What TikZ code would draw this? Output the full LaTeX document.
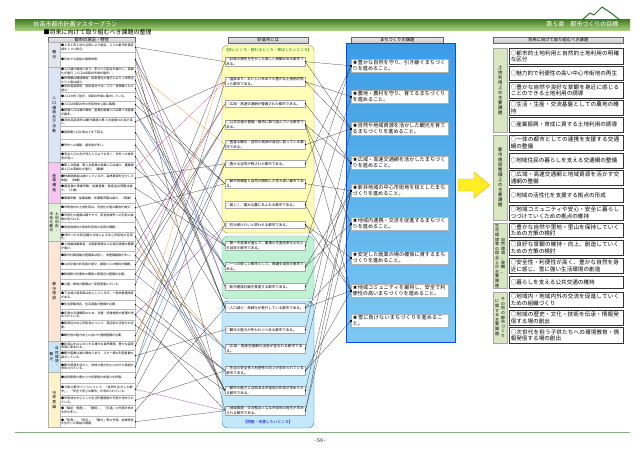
\documentclass[tikz,border=0pt]{standalone}
\usepackage{fontspec}
\setmainfont{Noto Sans CJK JP}
\XeTeXlinebreaklocale "ja"
\XeTeXlinebreakskip=0pt plus 0.5pt
\usetikzlibrary{shadows}
\definecolor{bandtop}{HTML}{3E7A22}
\definecolor{bandbot}{HTML}{A8CF7A}
\definecolor{catgray}{HTML}{E4E4EC}
\definecolor{catpop}{HTML}{DCE4F6}
\definecolor{catind}{HTML}{F5C6F0}
\definecolor{catland}{HTML}{E2F0D8}
\definecolor{catfac}{HTML}{FDE6D6}
\definecolor{catnat}{HTML}{C9E6F8}
\definecolor{catcit}{HTML}{FEF2CC}
\definecolor{goodfill}{HTML}{FFFFB8}
\definecolor{midfill}{HTML}{BFF2D4}
\definecolor{badfill}{HTML}{C2E8FA}
\definecolor{taskdark}{HTML}{3C9CE4}
\definecolor{tasklight}{HTML}{DDF0FC}
\definecolor{taskmid}{HTML}{7CC8F2}
\definecolor{rcatfill}{HTML}{D8E6C2}
\definecolor{arrowfill}{HTML}{FFEE22}
\definecolor{linkorange}{HTML}{E89020}
\definecolor{linkpurple}{HTML}{9040C0}
\definecolor{linkblue}{HTML}{2060D0}
\definecolor{linkpink}{HTML}{E040A0}
\tikzset{
  head/.style={
    draw=gray!80!black,
    top color=gray!15,
    bottom color=gray!45,
    anchor=north west,
    inner sep=0pt,
    minimum height=6pt,
    font=\fontsize{4.3}{5}\selectfont
  },
  lcat/.style={
    draw=gray!60,
    anchor=north west,
    inner sep=0pt,
    minimum width=12pt,
    align=center,
    font=\fontsize{3.8}{4.6}\selectfont
  },
  litem/.style={
    draw=gray!55,
    fill=white,
    anchor=north west,
    inner xsep=1pt,
    inner ysep=0pt,
    text width=73pt,
    align=left,
    font=\fontsize{3}{3.7}\selectfont
  },
  mitem/.style={
    draw=gray!70,
    fill=white,
    anchor=north west,
    inner xsep=1.2pt,
    inner ysep=0pt,
    text width=77.6pt,
    align=left,
    font=\fontsize{3.5}{4.2}\selectfont
  },
  bitem/.style={
    draw=gray!60,
    fill=white,
    drop shadow={shadow xshift=0.8pt,shadow yshift=-0.8pt,fill=gray!70},
    anchor=north west,
    inner xsep=1.5pt,
    inner ysep=0pt,
    text width=94pt,
    align=left,
    font=\fontsize{5.1}{5.8}\selectfont
  },
  rcat/.style={
    draw=gray!70,
    fill=rcatfill,
    anchor=north west,
    inner sep=0pt,
    minimum width=14pt,
    align=center,
    font=\fontsize{4.4}{5}\selectfont
  },
  ritem/.style={
    draw=gray!40!black,
    line width=0.5pt,
    fill=white,
    drop shadow={shadow xshift=0.8pt,shadow yshift=-0.8pt,fill=gray!60},
    anchor=north west,
    inner xsep=1.5pt,
    inner ysep=0pt,
    text width=111pt,
    align=left,
    font=\fontsize{5.6}{6.4}\selectfont
  },
  zone/.style={rounded corners=6pt, line width=0.4pt},
  link/.style={line width=0.25pt, draw=black!80},
  pin/.style={circle, fill=black, inner sep=0pt, minimum size=1.3pt}
}
\begin{document}
\begin{tikzpicture}[x=1pt,y=-1pt]
  \useasboundingbox (0,0) rectangle (640,453);

  % title band
  \shade[top color=bandtop, bottom color=bandbot] (15,19) rectangle (630,30);
  \draw[line width=1pt, draw=gray!50!green!60!black, line cap=round, line join=round]
    (582,20) -- (590,13) -- (594,15) -- (602,7) -- (611,13) -- (620,20);
  \node[anchor=west, text=white, font=\fontsize{6}{7}\selectfont] (plan) at (30,24.5) {妙高市都市計画マスタープラン};
  \node[anchor=east, text=white, font=\fontsize{6}{7}\selectfont] (chapter) at (622,24.5) {第５章　都市づくりの目標};
  \node[anchor=west, font=\fontsize{6}{7}\selectfont] (title) at (40,32.5) {■将来に向けて取り組むべき課題の整理};

  % column heads
  \node[head, minimum width=87pt] (hcur) at (48,37) {都市の現況・特性};
  \node[head, minimum width=80pt] (hcity) at (228,37) {妙高市とは};
  \node[head, minimum width=92pt] (htask) at (351,37) {まちづくりの課題};
  \node[head, minimum width=130pt] (hfut) at (493,37) {将来に向けて取り組むべき課題};

  % current state categories
  \node[lcat, fill=catgray, minimum height=25pt] (cgen) at (48,42) {概\\況};
  \node[lcat, fill=catpop, minimum height=95pt] (cpop) at (48,67) {人\\口\\構\\造\\及\\び\\活\\動};
  \node[lcat, fill=catind, minimum height=41pt] (cind) at (48,162) {産\\業\\構\\造};
  \node[lcat, fill=catland, minimum height=38pt] (cland) at (48,203) {};
  \node[font=\fontsize{3.6}{4.2}\selectfont, align=center] (clanda) at ([xshift=2.7pt]cland.center) {土\\地\\利\\用\\・};
  \node[font=\fontsize{3.6}{4.2}\selectfont, align=center] (clandb) at ([xshift=-2.7pt]cland.center) {市\\街\\化\\動\\向};
  \node[lcat, fill=catfac, minimum height=100pt] (cfac) at (48,241) {都\\市\\施\\設};
  \node[lcat, fill=catnat, minimum height=31pt] (cnat) at (48,341) {};
  \node[font=\fontsize{3.6}{4.2}\selectfont, align=center] (cnata) at ([xshift=2.7pt]cnat.center) {自\\然\\環\\境\\・};
  \node[font=\fontsize{3.6}{4.2}\selectfont, align=center] (cnatb) at ([xshift=-2.7pt]cnat.center) {観\\光};
  \node[lcat, fill=catcit, minimum height=55pt] (ccit) at (48,372) {市\\民\\意\\識};

  % current state items
  \foreach \n/\t/\b/\txt in {
    1/42/52/{●１市１町１村の合併により誕生。２つの都市計画区域を１つに統合。},
    2/52/67/{●日本でも屈指の豪雪地帯。},
    3/67/76/{●人口減少傾向にあり、年少人口割合が減少し、高齢化が進行（人口は旧新井市域が最多）。},
    4/76/84/{●世帯数は増加傾向、核家族化の進行により１世帯当たり人員は減少。},
    5/84/92/{●旧妙高高原町、旧妙高村では、人口・世帯数ともに減少。},
    6/92/101/{●人口の約７割が、旧新井市域に集中している。},
    7/101/108/{●人口は旧新井市の市街地中心部に集積。},
    8/108/117/{●就業人口は減少傾向、産業別就業人口は第３次産業が最多。},
    9/117/126/{●旧妙高高原町は観光関連の第３次産業の比率が高い。},
    10/126/139/{●昼夜間人口比率は１を下回る。},
    11/139/151/{●市外への通勤・通学者が多い。},
    12/151/162/{●流出人口の方が流入人口よりも多く、市外への依存度が高い。},
    13/162/173/{●第１次産業、第２次産業の就業人口は減少。農業就業人口の高齢化が進行。（農業）},
    14/173/183/{●林業就業者は減少しているが、森林資源を生かした取組。（林業）},
    15/183/193/{●製造業の事業所数・従業者数・製造品出荷額は減少。（工業）},
    16/193/203/{●事業所数・従業者数・年間販売額は減少。（商業）},
    17/203/212/{●市街地内の土地利用は、宅地化が進み農地が減少。},
    18/212/222/{●市街化の進展は緩やかで、用途地域外への宅地の拡散が見られる。},
    19/222/232/{●用途地域内の低未利用地の活用が課題。},
    20/232/241/{●郊外への大型店舗の立地による中心市街地の空洞化。},
    21/241/251/{●上信越自動車道・北陸新幹線など広域交通網の整備が進む。},
    22/251/260/{●都市計画道路の整備率は低く、未整備路線が多い。},
    23/260/269/{●公共交通の利用者が減少、路線バスの維持が課題。},
    24/269/279/{●鉄道駅の利便性の確保と駅周辺の整備が必要。},
    25/279/290/{●公園・緑地の整備は一定程度進んでいる。},
    26/290/300/{●下水道の普及率は向上しているが、一部未整備地区がある。},
    27/300/309/{●住宅密集地区、生活道路の整備が必要。},
    28/309/320/{●冬期の交通確保のため、消雪・除雪施設の整備が求められている。},
    29/320/330/{●駅周辺の中心市街地について、商店街の活性化が必要。},
    30/330/341/{●観光地の魅力向上に向けた施設整備が必要。},
    31/341/350/{●妙高山をはじめとする雄大な自然環境、豊かな温泉資源に恵まれる。},
    32/350/361/{●観光客数は減少傾向にあり、スキー場の利用者数も減少している。},
    33/361/372/{●観光資源を活かし、地域の魅力向上に向けた取組が求められている。},
    34/372/383/{●自然環境の豊かさや住環境の快適さを評価。},
    35/383/395/{●今後の都市づくりについて、「自然を生かした都市」、「安全で安心な都市」が求められている。},
    36/395/405/{●市街地を中心とした生活利便施設の充実が求められている。},
    37/405/416/{●「福祉・医療」、「雇用」、「交通」の充実を求める声が多い。},
    38/416/427/{●「除雪」、「防災」、「観光」等の充実、地域特性を生かした取組の推進。}}
  {
    \pgfmathsetmacro\hh{\b-\t}
    \node[litem, minimum height=\hh pt] (L\n) at (60,\t) {\txt};
  }

  % city zones
  \draw[zone, fill=goodfill, draw=gray!60!olive] (222,45) rectangle (314,233);
  \draw[zone, fill=midfill, draw=teal!60] (222,236) rectangle (314,299);
  \draw[zone, fill=badfill, draw=cyan!60!blue] (222,301) rectangle (314,428);
  \node[text=green!45!black, font=\fontsize{3.8}{4.4}\selectfont] (goodlbl) at (268,50.5) {【良いところ・誇れるところ・伸ばしたいところ】};
  \node[text=blue!80!black, font=\fontsize{3.8}{4.4}\selectfont] (badlbl) at (268,422) {【問題・改善したいところ】};

  % city items
  \foreach \n/\t/\b/\txt in {
    1/57/66/{□妙高の個性を生かした美しい景観がある都市である。},
    2/77/86/{□温泉あり、おいしい米ありの豊かな土地柄が揃った都市である。},
    3/100/107/{□広域・高速交通網が整備された都市である。},
    4/120/129/{□公共交通の整備・維持に取り組んでいる都市である。},
    5/140/149/{□豊富な観光・自然の資源が身近に揃っている都市である。},
    6/160/167/{□豊かな自然が残された都市である。},
    7/179/188/{□都市的機能と自然が調和した住み良い都市である。},
    8/201/208/{□美しく、雄大な麓にあふれる都市である。},
    9/221/228/{□住み続けたいと思われる都市である。},
    10/241/250/{□第一次産業が盛んで、農業の生産効率化の向上を目指す都市である。},
    11/262/271/{□一つの新しい都市として、再編を目指す都市である。},
    12/283/290/{□新市建設計画を推進する都市である。},
    13/303/312/{□人口減少・高齢化が進行している都市である。},
    14/326/333/{□観光の魅力が失われつつある都市である。},
    15/344/353/{□広域・高速交通網の活用が望まれる都市である。},
    16/366/375/{□生活の安全性と利便性の向上が求められている都市である。},
    17/386/395/{□都市の魅力と活気ある市街地の形成が求められる都市である。},
    18/406/415/{□地域振興・交流拠点となる市街地の再生が求められる都市である。}}
  {
    \pgfmathsetmacro\hh{\b-\t}
    \node[mitem, minimum height=\hh pt] (M\n) at (225,\t) {\txt};
  }

  % task zone and items
  \shade[top color=taskdark, middle color=tasklight, bottom color=taskmid] (346,43) rectangle (455,342);
  \draw[draw=blue!70!cyan, line width=0.5pt] (346,43) rectangle (455,342);
  \foreach \n/\t/\b/\txt in {
    1/59/72/{★豊かな自然を守り、引き継ぐまちづくりを進めること。},
    2/90/103/{★農地・農村を守り、育てるまちづくりを進めること。},
    3/122/135/{★自然や地域資源を活かした観光を育てるまちづくりを進めること。},
    4/156/169/{★広域・高速交通網を活かしたまちづくりを進めること。},
    5/184/197/{★新井地域の中心市街地を核としたまちづくりを進めること。},
    6/217/230/{★地域内連携・交流を促進するまちづくりを進めること。},
    7/251/264/{★安定した就業の場の確保に資するまちづくりを進めること。},
    8/284/297/{★地域コミュニティを維持し、安全で利便性の高いまちづくりを進めること。},
    9/314/327/{★雪に負けないまちづくりを進めること。}}
  {
    \pgfmathsetmacro\hh{\b-\t}
    \node[bitem, minimum height=\hh pt] (B\n) at (351,\t) {\txt};
  }

  % big arrow
  \draw[fill=arrowfill, draw=orange!70!yellow, line width=0.4pt, line join=round]
    (458,179) -- (474,179) -- (474,172) -- (490,185) -- (474,198) -- (474,191) -- (458,191) -- cycle;

  % future categories
  \node[rcat, minimum height=84pt] (fland) at (493,48) {土\\地\\利\\用\\上\\の\\主\\要\\課\\題};
  \node[rcat, minimum height=85pt] (ffac) at (493,135) {都\\市\\施\\設\\整\\備\\上\\の\\主\\要\\課\\題};
  \node[rcat, minimum height=65pt] (fenv) at (493,223) {};
  \node[font=\fontsize{4}{4.6}\selectfont, align=center] (fenva) at ([xshift=3pt]fenv.center) {自\\然\\環\\境\\、\\景\\観\\、};
  \node[font=\fontsize{4}{4.6}\selectfont, align=center] (fenvb) at ([xshift=-3pt]fenv.center) {生\\活\\環\\境\\等\\の\\保\\全\\上\\の\\主\\要\\課\\題};
  \node[rcat, minimum height=51pt] (foth) at (493,292) {};
  \node[font=\fontsize{4}{4.6}\selectfont, align=center] (fotha) at ([xshift=3pt]foth.center) {そ\\の\\他\\の\\都\\市\\づ\\く\\り};
  \node[font=\fontsize{4}{4.6}\selectfont, align=center] (fothb) at ([xshift=-3pt]foth.center) {に\\関\\す\\る\\主\\要\\課\\題};

  % future items
  \foreach \n/\t/\b/\txt in {
    1/48/64/{○都市的土地利用と自然的土地利用の明確な区分},
    2/66/80/{○魅力的で利便性の高い中心市街地の再生},
    3/82/98/{○豊かな自然や良好な景観を身近に感じることのできる土地利用の誘導},
    4/100/115/{○生活・生産・交流基盤としての農地の維持},
    5/117/132/{○産業振興・育成に資する土地利用の誘導},
    6/135/150/{○一体の都市としての連携を支援する交通網の整備},
    7/153/168/{○地域住民の暮らしを支える交通網の整備},
    8/170/185/{○広域・高速交通網と地域資源を活かす交通網の整備},
    9/188/202/{○地域の活性化を支援する拠点の形成},
    10/205/220/{○地域コミュニティや安心・安全に暮らしつづけていくための拠点の維持},
    11/223/237/{○豊かな自然や里地・里山を保持していくための方策の検討},
    12/240/255/{○良好な景観の維持・向上、創造していくための方策の検討},
    13/258/273/{○安全性・利便性が高く、豊かな自然を身近に感じ、雪に強い生活環境の創造},
    14/276/288/{○暮らしを支える公共交通の維持},
    15/292/307/{○地域内・地域内外の交流を促進していくための組織づくり},
    16/310/325/{○地域の歴史・文化・技術を伝承・情報発信する場の創出},
    17/327/343/{○次世代を担う子供たちへの環境教育・情報発信する場の創出}}
  {
    \pgfmathsetmacro\hh{\b-\t}
    \node[ritem, minimum height=\hh pt] (R\n) at (509,\t) {\txt};
  }

  % links: current state -> city
  \foreach \a/\b in {1/1,1/12,2/9,2/18,3/13,4/13,5/13,6/7,7/7,8/10,9/2,10/11,11/11,12/13,
    13/10,14/6,15/10,16/17,17/7,18/17,19/17,20/17,21/3,22/15,23/4,24/4,25/1,26/16,27/16,
    28/18,29/17,30/5,31/6,32/14,33/2,34/6,35/9,36/16,37/13,38/18}
    \draw[link] (L\a.east) -- (M\b.west);
  \foreach \a/\b in {3/5,21/15,31/1}
    \draw[link, draw=linkorange] (L\a.east) -- (M\b.west);
  \foreach \a/\b in {2/12,28/9,35/18}
    \draw[link, draw=linkpurple] (L\a.east) -- (M\b.west);
  \foreach \a/\b in {8/11,24/15,33/5}
    \draw[link, draw=linkblue] (L\a.east) -- (M\b.west);
  \foreach \a/\b in {13/2,22/3}
    \draw[link, draw=linkpink] (L\a.east) -- (M\b.west);

  % links: city -> tasks
  \foreach \a/\b in {1/1,1/3,2/2,2/3,3/4,4/4,4/6,4/8,5/3,6/1,7/5,8/1,8/8,9/8,9/7,10/2,
    11/5,11/6,12/5,13/8,13/7,14/3,15/4,16/8,16/9,17/5,18/6,18/5}
    \draw[link] (M\a.east) -- (B\b.west);

  % connector pins
  \foreach \n in {1,...,38}
    \node[pin] (pl\n) at (L\n.east) {};
  \foreach \n in {1,...,18}
    \node[pin] (pm\n) at (M\n.east) {};
  \foreach \n in {1,...,9}
    \node[pin, rectangle, minimum size=1.6pt] (pb\n) at (B\n.west) {};

  % footer
  \draw[draw=green!40!black!50, line width=0.6pt] (15,432) -- (630,432);
  \node[font=\fontsize{5}{6}\selectfont] (page) at (320,441) {- 59 -};
\end{tikzpicture}
\end{document}
